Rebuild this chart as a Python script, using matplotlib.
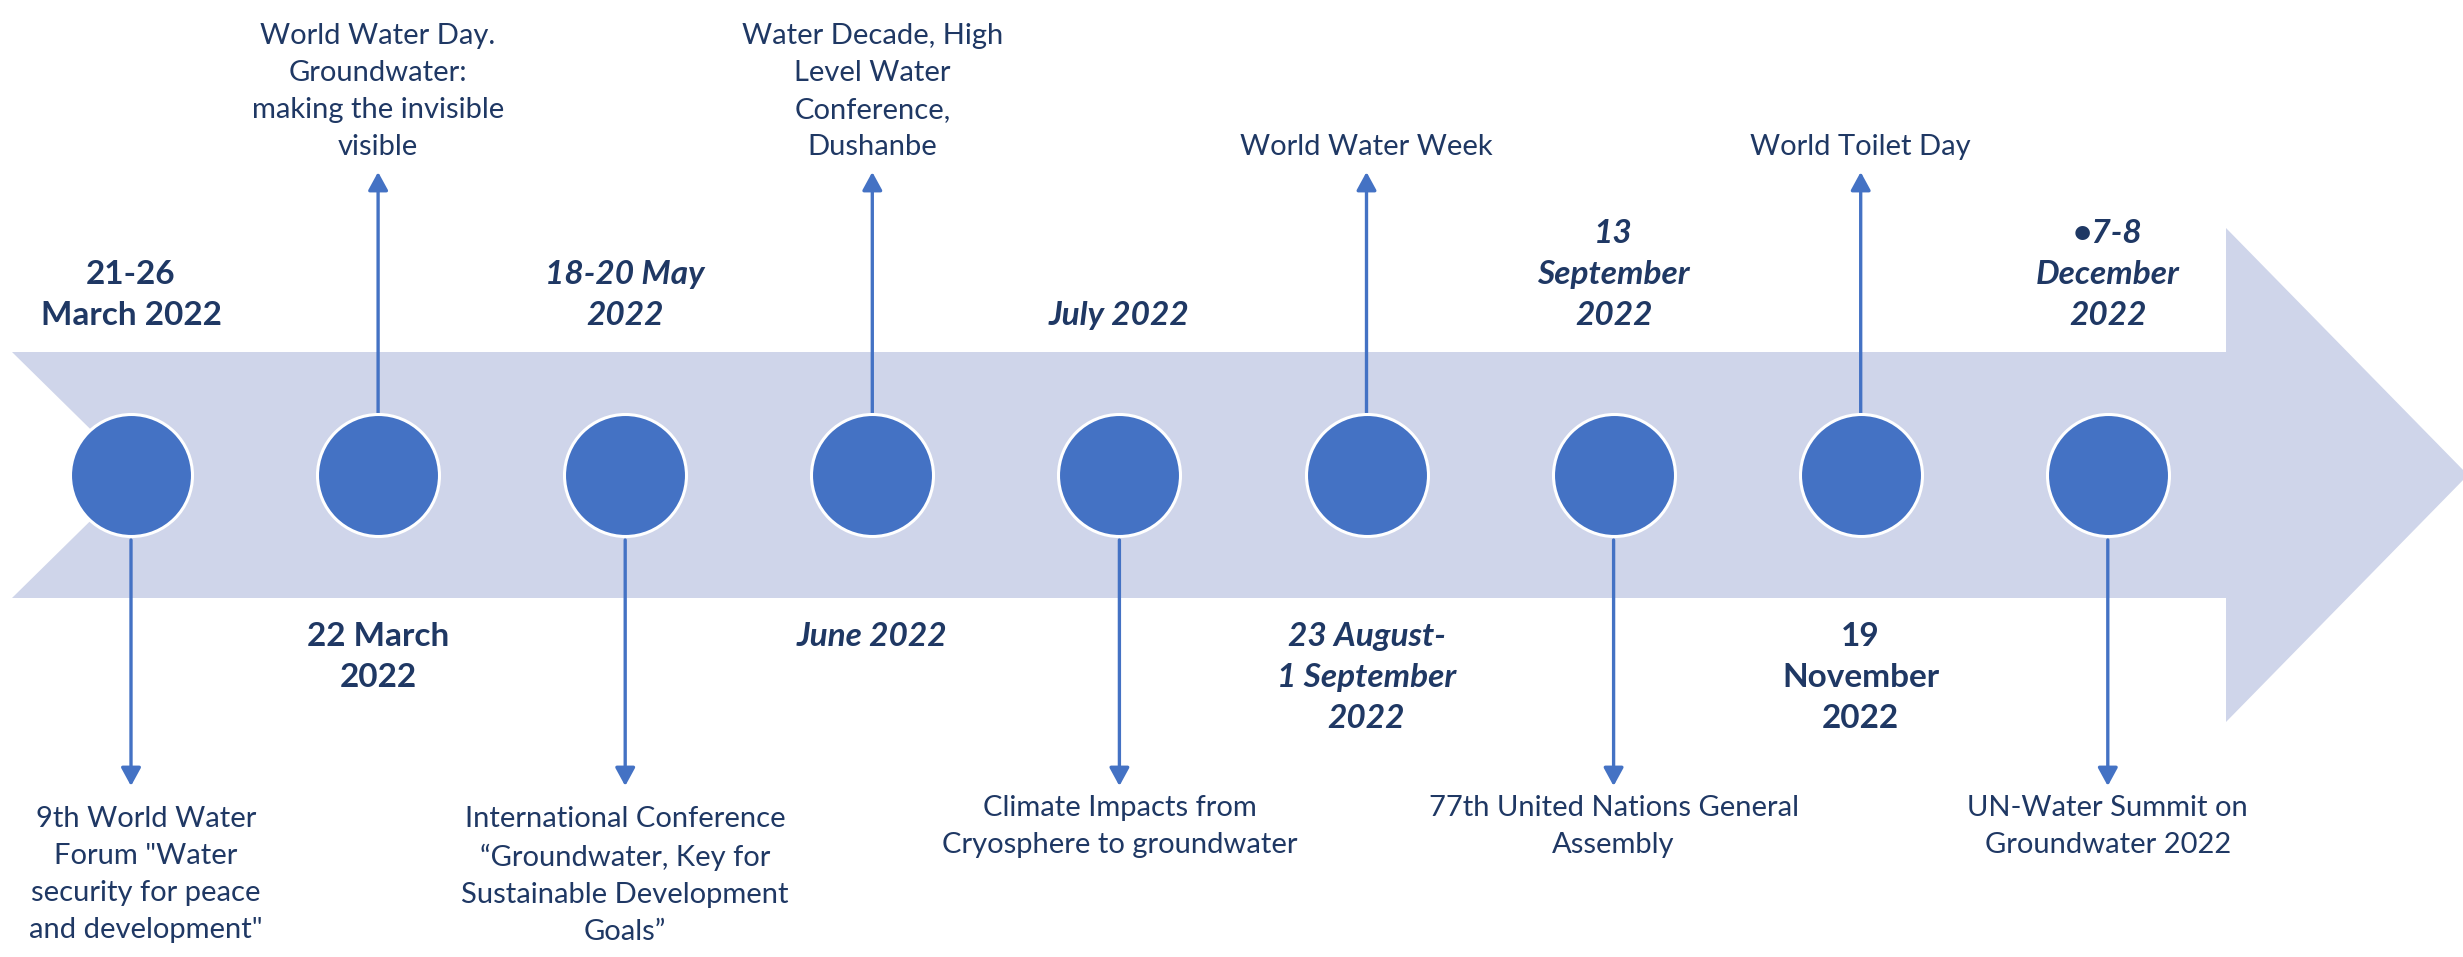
import numpy as np
import matplotlib.pyplot as plt
from matplotlib.patches import Polygon

plt.rcParams["font.family"] = ["Lato", "DejaVu Sans"]

# timeline content
dates = [
    "21-26\nMarch 2022",
    "22 March\n2022",
    "18-20 May\n2022",
    "June 2022",
    "July 2022",
    "23 August-\n1 September\n2022",
    "13\nSeptember\n2022",
    "19\nNovember\n2022",
    "\u20227-8\nDecember\n2022",
]
date_italic = [False, False, True, True, True, True, True, False, True]
events = [
    '9th World Water\nForum "Water\nsecurity for peace\nand development"',
    "World Water Day.\nGroundwater:\nmaking the invisible\nvisible",
    "International Conference\n\u201cGroundwater, Key for\nSustainable Development\nGoals\u201d",
    "Water Decade, High\nLevel Water\nConference,\nDushanbe",
    "Climate Impacts from\nCryosphere to groundwater",
    "World Water Week",
    "77th United Nations General\nAssembly",
    "World Toilet Day",
    "UN-Water Summit on\nGroundwater 2022",
]

band_color = "#CFD5EA"
dot_color = "#4472C4"
text_color = "#1F3864"

W, H = 2463, 957
fig = plt.figure(figsize=(W / 100, H / 100), dpi=100)
ax = fig.add_axes([0, 0, 1, 1])
# x in event units, y in pixel rows (top = 0)
step = 247.1
x0 = 131
ax.set_xlim(-x0 / step, (W - x0) / step)
ax.set_ylim(H, 0)
ax.axis("off")


def px(v):
    return (v - x0) / step


# chevron band with arrow head
band = Polygon(
    [
        (px(12), 352), (px(2226), 352), (px(2226), 228), (px(2468), 475),
        (px(2226), 722), (px(2226), 598), (px(12), 598), (px(137), 475),
    ],
    closed=True, facecolor=band_color, edgecolor="none", zorder=1,
)
ax.add_patch(band)

n = len(dates)
xs = np.arange(n)
ax.scatter(xs, np.full(n, 475), s=(122 * 0.72) ** 2, color=dot_color,
           edgecolor="white", linewidth=2.2, zorder=3)

for i in range(n):
    up = i % 2 == 1
    style = "italic" if date_italic[i] else "normal"
    # arrow + event text
    if up:
        start, tip = 413, 172
    else:
        start, tip = 540, 786
    ax.annotate("", xy=(i, tip), xytext=(i, start),
                arrowprops=dict(arrowstyle="-|>,head_length=0.55,head_width=0.3",
                                mutation_scale=20, color=dot_color, lw=2.4,
                                shrinkA=0, shrinkB=0), zorder=2)
    if up:
        ax.text(i, 160, events[i], ha="center", va="bottom", fontsize=21,
                color=text_color, linespacing=1.52)
        ax.text(i, 622, dates[i], ha="center", va="top", fontsize=24,
                fontweight="bold", fontstyle=style, color=text_color,
                linespacing=1.5)
    else:
        top = 806 if events[i].count("\n") > 1 else 795
        xe = i + (0.06 if i == 0 else 0)
        ax.text(xe, top, events[i], ha="center", va="top", fontsize=21,
                color=text_color, linespacing=1.52)
        ax.text(i, 330, dates[i], ha="center", va="bottom", fontsize=24,
                fontweight="bold", fontstyle=style, color=text_color,
                linespacing=1.5)

fig.savefig("out.png", dpi=100)
